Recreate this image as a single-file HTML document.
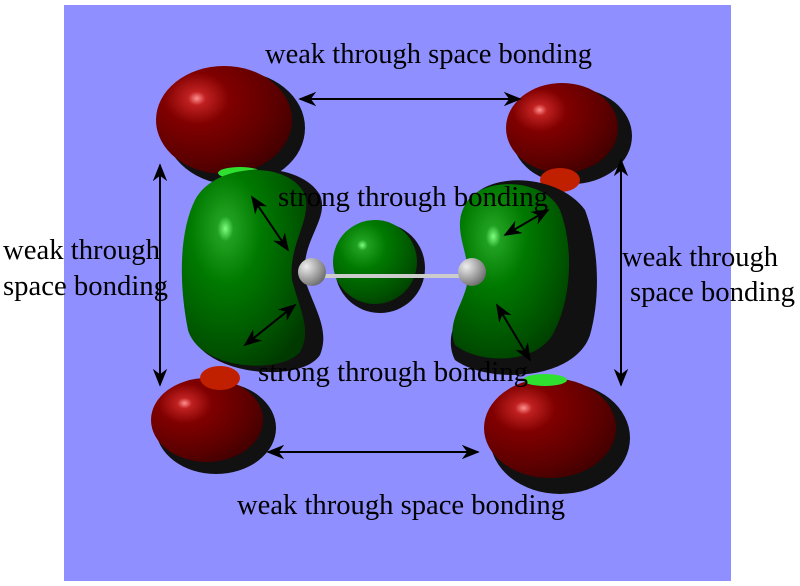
<!DOCTYPE html><html><head><style>body{margin:0;background:#fff}svg{display:block}text{font-family:"Liberation Serif",serif;font-size:28.5px;fill:#000}</style></head><body>
<svg width="800" height="586" viewBox="0 0 800 586" xmlns="http://www.w3.org/2000/svg">
<defs>
<marker id="a" viewBox="0 0 10 10" refX="9" refY="5" markerWidth="9" markerHeight="9" orient="auto-start-reverse"><path d="M0,1 L10,5 L0,9 L3,5z" fill="#000"/></marker>
<radialGradient id="r" cx="0.3" cy="0.3" r="0.8"><stop offset="0" stop-color="#ff9090"/><stop offset="0.08" stop-color="#c02020"/><stop offset="0.3" stop-color="#800000"/><stop offset="0.75" stop-color="#5a0000"/><stop offset="1" stop-color="#400000"/></radialGradient>
<radialGradient id="g" cx="0.35" cy="0.3" r="0.8"><stop offset="0" stop-color="#80ff80"/><stop offset="0.08" stop-color="#20a020"/><stop offset="0.35" stop-color="#007a00"/><stop offset="0.8" stop-color="#005000"/><stop offset="1" stop-color="#003a00"/></radialGradient>
<radialGradient id="w" cx="0.3" cy="0.3" r="0.8"><stop offset="0" stop-color="#eee"/><stop offset="1" stop-color="#666"/></radialGradient>
</defs>
<rect x="64" y="5" width="667" height="576" fill="#8f8fff"/>
<ellipse cx="235" cy="128" rx="70" ry="57" fill="#111"/><ellipse cx="224" cy="120" rx="68" ry="54" fill="url(#r)"/>
<ellipse cx="572" cy="136" rx="60" ry="48" fill="#111"/><ellipse cx="562" cy="128" rx="56" ry="45" fill="url(#r)"/>
<ellipse cx="216" cy="428" rx="60" ry="46" fill="#111"/><ellipse cx="207" cy="420" rx="56" ry="42" fill="url(#r)"/>
<ellipse cx="560" cy="438" rx="70" ry="56" fill="#111"/><ellipse cx="550" cy="428" rx="66" ry="50" fill="url(#r)"/>
<ellipse cx="240" cy="173" rx="22" ry="6" fill="#30e030"/>
<ellipse cx="545" cy="380" rx="22" ry="6" fill="#30e030"/>
<ellipse cx="220" cy="378" rx="20" ry="12" fill="#c02000"/>
<ellipse cx="560" cy="180" rx="20" ry="12" fill="#c02000"/>
<path d="M200,200 C220,160 300,160 320,195 C330,220 300,240 305,280 C315,310 330,330 320,355 C300,385 200,375 190,330 C180,280 185,230 200,200z" fill="#111"/>
<path d="M195,200 C215,162 290,160 305,195 C312,220 288,245 292,280 C300,310 312,330 300,352 C280,375 200,370 188,330 C178,280 180,230 195,200z" fill="url(#g)"/>
<path d="M470,200 C490,170 560,175 585,210 C600,250 600,300 590,335 C575,380 490,385 455,360 C440,330 470,305 470,280 C470,250 455,225 470,200z" fill="#111"/>
<path d="M465,205 C480,175 545,178 560,210 C575,250 570,300 555,330 C540,365 480,365 455,345 C445,320 468,300 468,275 C468,250 452,228 465,205z" fill="url(#g)"/>
<circle cx="380" cy="268" r="45" fill="#111"/><circle cx="375" cy="262" r="42" fill="url(#g)"/>
<rect x="310" y="274" width="160" height="4" fill="#ccc"/>
<circle cx="312" cy="272" r="14" fill="url(#w)"/>
<circle cx="472" cy="272" r="14" fill="url(#w)"/>
<g stroke="#000" stroke-width="2" marker-start="url(#a)" marker-end="url(#a)">
<line x1="300" y1="99" x2="520" y2="99"/>
<line x1="268" y1="452" x2="478" y2="452"/>
<line x1="160" y1="165" x2="160" y2="385"/>
<line x1="621" y1="160" x2="621" y2="385"/>
<line x1="252" y1="197" x2="288" y2="250"/>
<line x1="245" y1="345" x2="295" y2="305"/>
<line x1="505" y1="235" x2="548" y2="210"/>
<line x1="497" y1="305" x2="530" y2="360"/>
</g>
<text x="265" y="63" textLength="327" lengthAdjust="spacingAndGlyphs">weak through space bonding</text>
<text x="237" y="514" textLength="328" lengthAdjust="spacingAndGlyphs">weak through space bonding</text>
<text x="3" y="259" textLength="157" lengthAdjust="spacingAndGlyphs">weak through</text>
<text x="3" y="295" textLength="165" lengthAdjust="spacingAndGlyphs">space bonding</text>
<text x="622" y="266" textLength="156" lengthAdjust="spacingAndGlyphs">weak through</text>
<text x="630" y="301" textLength="165" lengthAdjust="spacingAndGlyphs">space bonding</text>
<text x="278" y="206" textLength="270" lengthAdjust="spacingAndGlyphs">strong through bonding</text>
<text x="258" y="381" textLength="270" lengthAdjust="spacingAndGlyphs">strong through bonding</text>
</svg></body></html>
